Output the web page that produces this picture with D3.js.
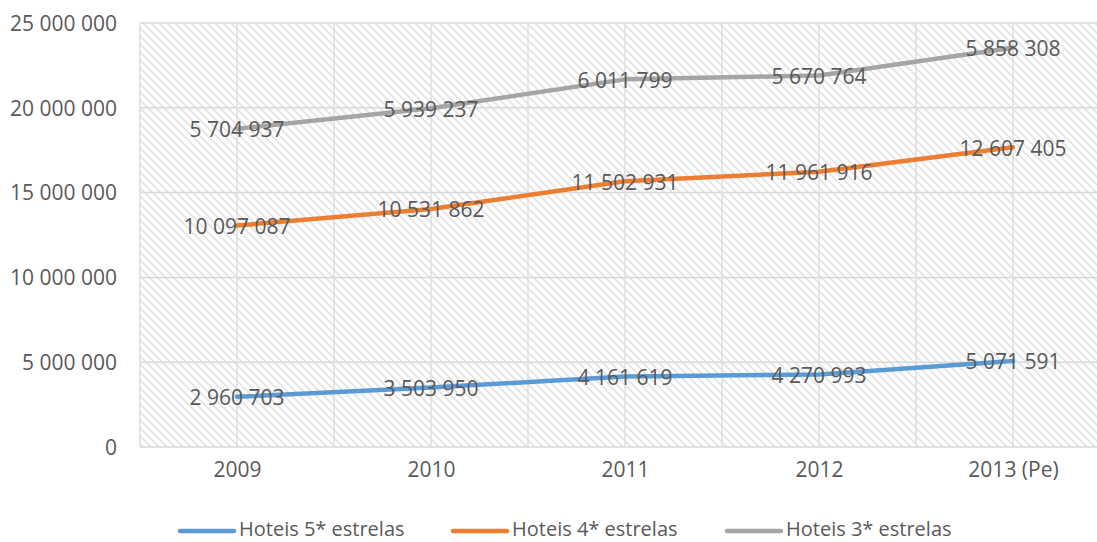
<!DOCTYPE html>
<html><head><meta charset="utf-8">
<script src="https://cdn.jsdelivr.net/npm/d3@7"></script>
<style>body{margin:0;background:#fff}svg{display:block}text{font-family:"Open Sans",sans-serif;fill:#595959}</style>
</head><body><svg id="c" width="1097" height="542"></svg>
<script>
const categories = ["2009","2010","2011","2012","2013 (Pe)"];
const hoteis5 = [2960703, 3503950, 4161619, 4270993, 5071591];
const hoteis4 = [10097087, 10531862, 11502931, 11961916, 12607405];
const hoteis3 = [5704937, 5939237, 6011799, 5670764, 5858308];
const seriesNames = ["Hoteis 5* estrelas","Hoteis 4* estrelas","Hoteis 3* estrelas"];
const colors = ["#5b9bd5","#ed7d31","#a5a5a5"];
const yTicks = [0,5000000,10000000,15000000,20000000,25000000];

const svg = d3.select("#c");
const L=140, R=1110, T=23, B=447;
const x = d3.scalePoint().domain(categories).range([L,R]).padding(0.5);
const step = x.step();
const y = d3.scaleLinear().domain([0,25000000]).range([B,T]);
const fmt = v => d3.format(",")(v).replace(/,/g," ");

const defs = svg.append("defs");
const pat = defs.append("pattern").attr("id","hatch").attr("patternUnits","userSpaceOnUse")
  .attr("width",8).attr("height",8);
pat.append("rect").attr("width",8).attr("height",8).attr("fill","#fff");
pat.append("path").attr("d","M-2,-2 L10,10 M-2,6 L2,10 M6,-2 L10,2").attr("stroke","#e3e3e3").attr("stroke-width",1.6);

svg.append("rect").attr("x",L).attr("y",T).attr("width",R-L).attr("height",B-T).attr("fill","url(#hatch)");

// gridlines
const g = svg.append("g");
yTicks.forEach(t=>g.append("line").attr("x1",L).attr("x2",R).attr("y1",y(t)).attr("y2",y(t)).attr("stroke","#d9d9d9").attr("stroke-width",1.5));
const vlines=[];
categories.forEach(c=>{vlines.push(x(c)-step/2, x(c));});
vlines.push(R);
vlines.forEach(v=>g.append("line").attr("x1",v).attr("x2",v).attr("y1",T).attr("y2",B).attr("stroke","#dedede").attr("stroke-width",1.5));

// y axis labels
const ya = d3.axisLeft(y).tickValues(yTicks).tickFormat(fmt).tickSize(0).tickPadding(0);
const yg = svg.append("g").attr("transform","translate(117,0)").call(ya);
yg.select(".domain").remove();
yg.selectAll("text").attr("font-size",21).attr("font-family","Open Sans").attr("fill","#595959").attr("dy","0.35em");

// x axis labels
const xa = d3.axisBottom(x).tickSize(0).tickPadding(0);
const xg = svg.append("g").attr("transform","translate(0,470)").call(xa);
xg.select(".domain").remove();
xg.selectAll("text").attr("font-size",21).attr("font-family","Open Sans").attr("fill","#595959").attr("dy","0.35em");

// stacked
const raw = [hoteis5,hoteis4,hoteis3];
const stacked = [];
let acc = categories.map(()=>0);
raw.forEach(s=>{acc = acc.map((a,i)=>a+s[i]); stacked.push(acc.slice());});

const line = d3.line().x((d,i)=>x(categories[i])).y(d=>y(d));
stacked.forEach((s,k)=>{
  svg.append("path").datum(s).attr("d",line).attr("fill","none").attr("stroke",colors[k]).attr("stroke-width",4.5).attr("stroke-linecap","round").attr("stroke-linejoin","round");
});
stacked.forEach((s,k)=>{
  svg.append("g").selectAll("text").data(s).join("text")
    .attr("x",(d,i)=>x(categories[i])).attr("y",d=>y(d)+1).attr("dy","0.35em")
    .attr("text-anchor","middle").attr("font-size",21).attr("fill","#404040")
    .text((d,i)=>fmt(raw[k][i]));
});

// legend
const legX = [180,453,727];
seriesNames.forEach((n,k)=>{
  svg.append("line").attr("x1",legX[k]).attr("x2",legX[k]+54).attr("y1",531).attr("y2",531).attr("stroke",colors[k]).attr("stroke-width",4.5).attr("stroke-linecap","round");
  svg.append("text").attr("x",legX[k]+59).attr("y",529).attr("dy","0.35em").attr("font-size",20).text(n);
});
</script></body></html>
